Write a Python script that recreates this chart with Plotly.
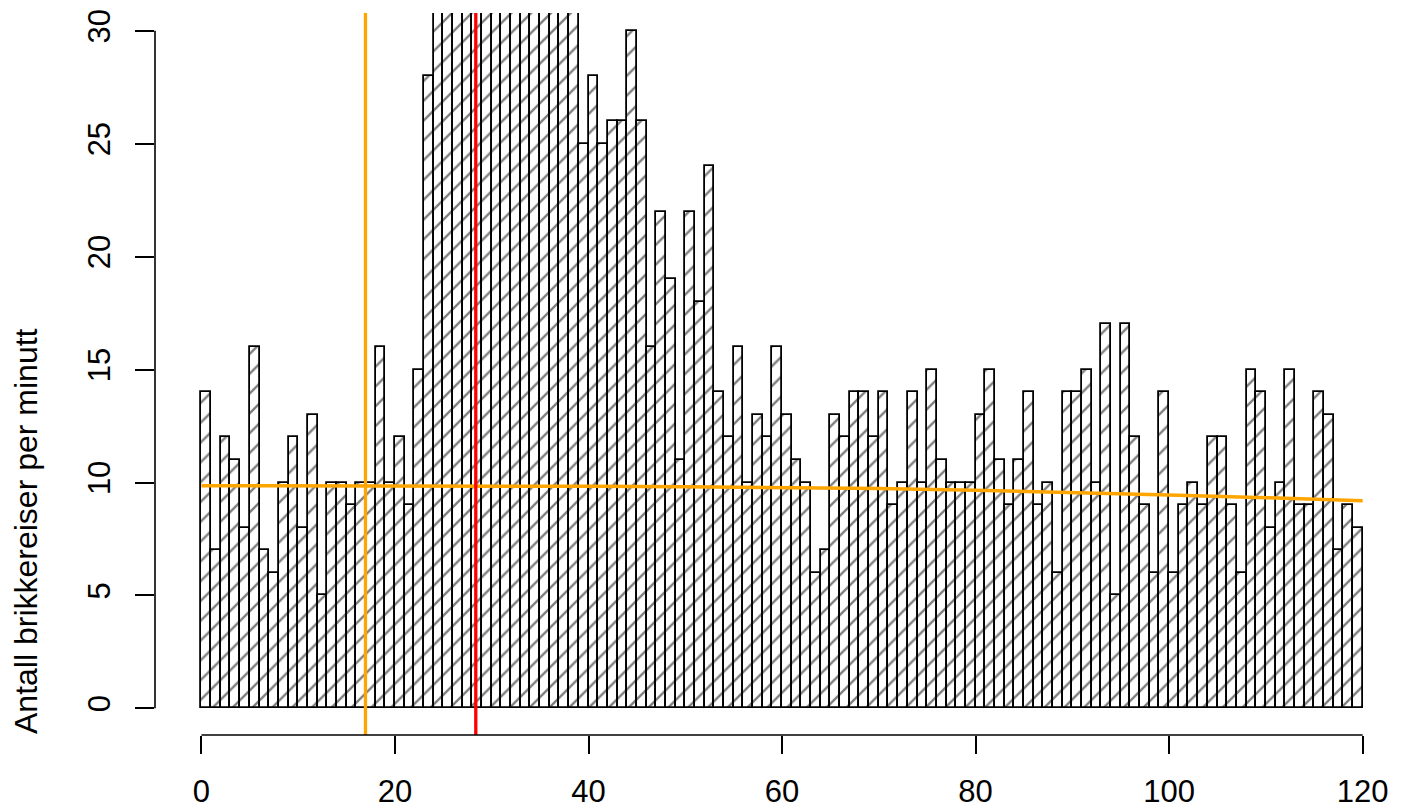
import plotly.graph_objects as go

# ---- data ----
minutes = list(range(120))  # bin start (minute)
counts = [14, 7, 12, 11, 8, 16, 7, 6, 10, 12,
          8, 13, 5, 10, 10, 9, 10, 10, 16, 10,
          12, 9, 15, 28, 33, 38, 42, 47, 52, 49,
          55, 51, 46, 44, 41, 39, 36, 34, 32, 25,
          28, 25, 26, 26, 30, 26, 16, 22, 19, 11,
          22, 18, 24, 14, 12, 16, 10, 13, 12, 16,
          13, 11, 10, 6, 7, 13, 12, 14, 14, 12,
          14, 9, 10, 14, 10, 15, 11, 10, 10, 10,
          13, 15, 11, 9, 11, 14, 9, 10, 6, 14,
          14, 15, 10, 17, 5, 17, 12, 9, 6, 14,
          6, 9, 10, 9, 12, 12, 9, 6, 15, 14,
          8, 10, 15, 9, 9, 14, 13, 7, 9, 8]
trend_x = [0, 10, 20, 30, 40, 50, 60, 70, 80, 90, 100, 110, 120]
trend_y = [9.86, 9.86, 9.85, 9.84, 9.83, 9.81, 9.78, 9.73, 9.66, 9.57, 9.45, 9.33, 9.19]
orange_vline = 16.95
red_vline = 28.35
x_ticks = [0, 20, 40, 60, 80, 100, 120]
y_ticks = [0, 5, 10, 15, 20, 25, 30]
y_label = "Antall brikkereiser per minutt"

# ---- layout constants ----
W, H = 1403, 808
L, R, T, B = 155, 0, 13, 73
x_range = [-4.8, 124.17]
y_range = [-1.18, 30.79]
FONT = "Liberation Sans, Arial, Helvetica, sans-serif"
FS = 31

def xp(v):
    return (v - x_range[0]) / (x_range[1] - x_range[0])

def yp(v):
    return (v - y_range[0]) / (y_range[1] - y_range[0])

fig = go.Figure()
fig.add_trace(go.Bar(
    x=[m + 0.5 for m in minutes], y=counts, width=1,
    marker=dict(color="white",
                line=dict(color="black", width=1.8),
                pattern=dict(shape="/", fgcolor="black", bgcolor="white",
                             size=14, solidity=0.17)),
    showlegend=False, hoverinfo="skip"))
fig.add_trace(go.Scatter(
    x=trend_x, y=trend_y, mode="lines",
    line=dict(color="#FFA500", width=3.5), showlegend=False, hoverinfo="skip"))

shapes = [
    dict(type="line", xref="x", yref="paper", x0=orange_vline, x1=orange_vline, y0=0, y1=1,
         line=dict(color="#FFA500", width=3.3), layer="above"),
    dict(type="line", xref="x", yref="paper", x0=red_vline, x1=red_vline, y0=0, y1=1,
         line=dict(color="#FF0000", width=3.3), layer="above"),
    # R-style axis lines spanning only the tick range
    dict(type="line", xref="paper", yref="paper", x0=xp(x_ticks[0]), x1=xp(x_ticks[-1]), y0=0, y1=0,
         line=dict(color="black", width=1.6)),
    dict(type="line", xref="paper", yref="paper", x0=0, x1=0, y0=yp(y_ticks[0]), y1=yp(y_ticks[-1]),
         line=dict(color="black", width=1.6)),
]

fig.update_layout(
    width=W, height=H, autosize=False,
    margin=dict(l=L, r=R, t=T, b=B, pad=0),
    paper_bgcolor="white", plot_bgcolor="white",
    bargap=0, shapes=shapes,
    font=dict(family=FONT, size=FS, color="black"),
    xaxis=dict(range=x_range, tickvals=x_ticks, ticks="outside", ticklen=18, tickwidth=1.6,
               tickcolor="black", showline=False, showgrid=False, zeroline=False,
               tickfont=dict(family=FONT, size=FS), automargin=False, ticklabelstandoff=11),
    yaxis=dict(range=y_range, tickvals=y_ticks, ticks="outside", ticklen=19, tickwidth=1.6,
               tickcolor="black", showline=False, showgrid=False, zeroline=False,
               tickangle=-90, tickfont=dict(family=FONT, size=FS), automargin=False,
               ticklabelstandoff=13),
    annotations=[dict(text=y_label, xref="paper", yref="paper",
                      x=(26 - L) / (W - L - R), y=(H - B - 531) / (H - B - T),
                      xanchor="center", yanchor="middle", textangle=-90, showarrow=False,
                      font=dict(family=FONT, size=32, color="black"))],
)

fig.write_html("out.html", config={"displayModeBar": False},
               post_script="document.body.style.margin='0px';document.body.style.overflow='hidden';")
